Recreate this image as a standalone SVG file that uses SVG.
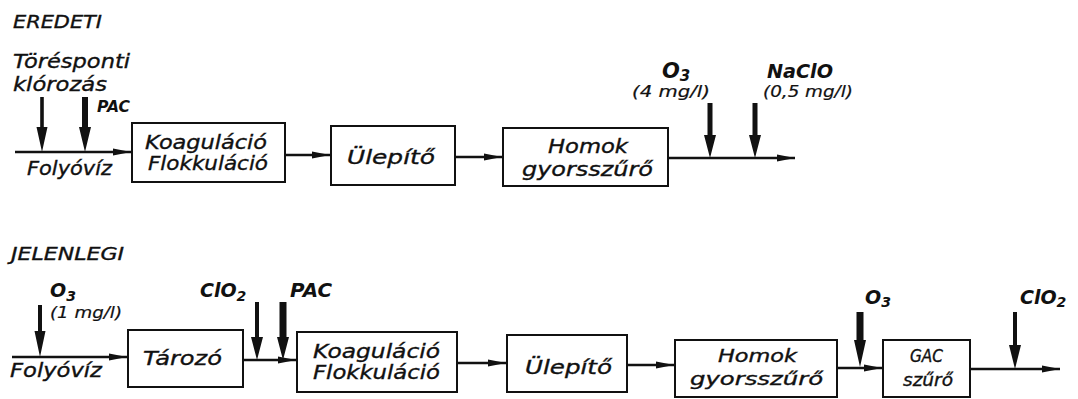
<svg xmlns="http://www.w3.org/2000/svg" width="1078" height="399" viewBox="0 0 1078 399">
<style>
text{font-family:"DejaVu Sans","Liberation Sans",sans-serif;font-style:oblique;fill:#111;stroke:#111;stroke-width:0.35;}
.t{font-size:19px;}
.m{font-size:17px;}
.h{font-size:17px;}
.s{font-size:15px;stroke-width:0.2;}
.b{font-weight:bold;font-size:19px;stroke-width:0;}
.box{fill:#fff;stroke:#111;stroke-width:2;}
.ln{stroke:#111;stroke-width:2.5;fill:none;}
.inj{fill:#111;stroke:none;}
</style>
<defs>
<marker id="ah" markerUnits="userSpaceOnUse" markerWidth="20" markerHeight="10" refX="18" refY="5" orient="auto">
<path d="M0,1.5 L18,5 L0,8.5 z" fill="#111"/>
</marker>
</defs>
<rect width="1078" height="399" fill="#fff"/>

<text class="h" x="13" y="28" textLength="89" lengthAdjust="spacingAndGlyphs">EREDETI</text>
<text class="h" x="11" y="260" textLength="113" lengthAdjust="spacingAndGlyphs">JELENLEGI</text>

<g id="connectors">
<path class="ln" d="M15,152 H131" marker-end="url(#ah)"/>
<path class="ln" d="M285,155 H330" marker-end="url(#ah)"/>
<path class="ln" d="M455,157 H502" marker-end="url(#ah)"/>
<path class="ln" d="M668,158 H795" marker-end="url(#ah)"/>
<path class="ln" d="M12,357 H127" marker-end="url(#ah)"/>
<path class="ln" d="M243,360 H296" marker-end="url(#ah)"/>
<path class="ln" d="M457,363 H506" marker-end="url(#ah)"/>
<path class="ln" d="M627,365 H674" marker-end="url(#ah)"/>
<path class="ln" d="M837,368 H882" marker-end="url(#ah)"/>
<path class="ln" d="M970,369 H1060" marker-end="url(#ah)"/>
<path class="inj" d="M40.2,97 V127 H36.5 L42,152 L47.5,127 H43.8 V97 Z"/>
<path class="inj" d="M82,97 V127 H79 L85,152 L91,127 H88 V97 Z"/>
<path class="inj" d="M707.5,103 V135 H704 L710,158 L716,135 H712.5 V103 Z"/>
<path class="inj" d="M752.5,103 V135 H749 L755,158 L761,135 H757.5 V103 Z"/>
<path class="inj" d="M38,305 V331 H34.5 L40,357 L45.5,331 H42 V305 Z"/>
<path class="inj" d="M255,302 V337 H251 L257,360 L263,337 H259 V302 Z"/>
<path class="inj" d="M279.5,302 V337 H277 L283,360 L289,337 H286.5 V302 Z"/>
<path class="inj" d="M856.5,312 V340 H854 L860,367 L866,340 H863.5 V312 Z"/>
<path class="inj" d="M1013,312 V345 H1009 L1015,369 L1021,345 H1017 V312 Z"/>
</g>

<g id="in-top">
<text class="t" x="13" y="68" textLength="117" lengthAdjust="spacingAndGlyphs">Törésponti</text>
<text class="t" x="13" y="91" textLength="94" lengthAdjust="spacingAndGlyphs">klórozás</text>
<text class="b" x="97" y="112" textLength="33" lengthAdjust="spacingAndGlyphs" style="font-size:16px">PAC</text>
<text class="t" x="27" y="175" textLength="85" lengthAdjust="spacingAndGlyphs">Folyóvíz</text>
</g>

<g id="koag1">
<rect class="box" x="132" y="123" width="153" height="59"/>
<text class="t" x="145" y="149" textLength="122" lengthAdjust="spacingAndGlyphs">Koaguláció</text>
<text class="t" x="148" y="170" textLength="120" lengthAdjust="spacingAndGlyphs">Flokkuláció</text>
</g>
<g id="ulep1">
<rect class="box" x="331" y="126" width="124" height="59"/>
<text class="t" x="347" y="164" textLength="88" lengthAdjust="spacingAndGlyphs">Ülepítő</text>
</g>
<g id="homok1">
<rect class="box" x="503" y="128" width="165" height="58"/>
<text class="t" x="548" y="153" textLength="80" lengthAdjust="spacingAndGlyphs">Homok</text>
<text class="t" x="522" y="176" textLength="131" lengthAdjust="spacingAndGlyphs">gyorsszűrő</text>
</g>
<g id="o3-top">
<text class="b" x="662" y="78" style="font-size:21px">O<tspan style="font-size:15px" dy="3">3</tspan></text>
<text class="s" x="632" y="97" textLength="78" lengthAdjust="spacingAndGlyphs">(4 mg/l)</text>
</g>
<g id="naclo-top">
<text class="b" x="767" y="78" textLength="66" lengthAdjust="spacingAndGlyphs">NaClO</text>
<text class="s" x="763" y="97" textLength="90" lengthAdjust="spacingAndGlyphs">(0,5 mg/l)</text>
</g>

<g id="in-bottom">
<text class="b" x="50" y="297" style="font-size:19px">O<tspan style="font-size:14px" dy="4">3</tspan></text>
<text class="s" x="50" y="318" textLength="72" lengthAdjust="spacingAndGlyphs">(1 mg/l)</text>
<text class="t" x="10" y="377" textLength="92" lengthAdjust="spacingAndGlyphs">Folyóvíz</text>
</g>
<g id="tarozo">
<rect class="box" x="128" y="330" width="115" height="57"/>
<text class="t" x="143" y="365" textLength="79" lengthAdjust="spacingAndGlyphs">Tározó</text>
</g>
<g id="clo2-a">
<text class="b" x="200" y="297">ClO<tspan style="font-size:14px" dy="4">2</tspan></text>
</g>
<g id="pac-b">
<text class="b" x="290" y="297" textLength="42" lengthAdjust="spacingAndGlyphs">PAC</text>
</g>
<g id="koag2">
<rect class="box" x="297" y="332" width="160" height="60"/>
<text class="t" x="313" y="358" textLength="127" lengthAdjust="spacingAndGlyphs">Koaguláció</text>
<text class="t" x="313" y="379" textLength="127" lengthAdjust="spacingAndGlyphs">Flokkuláció</text>
</g>
<g id="ulep2">
<rect class="box" x="507" y="335" width="120" height="57"/>
<text class="t" x="525" y="374" textLength="87" lengthAdjust="spacingAndGlyphs">Ülepítő</text>
</g>
<g id="homok2">
<rect class="box" x="675" y="340" width="162" height="57"/>
<text class="m" x="718" y="362" textLength="79" lengthAdjust="spacingAndGlyphs">Homok</text>
<text class="m" x="690" y="385" textLength="133" lengthAdjust="spacingAndGlyphs">gyorsszűrő</text>
</g>
<g id="o3-b">
<text class="b" x="865" y="304" style="font-size:19px">O<tspan style="font-size:14px" dy="3">3</tspan></text>
</g>
<g id="gac">
<rect class="box" x="883" y="340" width="87" height="57"/>
<text class="m" x="910" y="362" textLength="33" lengthAdjust="spacingAndGlyphs">GAC</text>
<text class="m" x="903" y="386" textLength="50" lengthAdjust="spacingAndGlyphs">szűrő</text>
</g>
<g id="clo2-b">
<text class="b" x="1020" y="304">ClO<tspan style="font-size:14px" dy="3">2</tspan></text>
</g>
</svg>
